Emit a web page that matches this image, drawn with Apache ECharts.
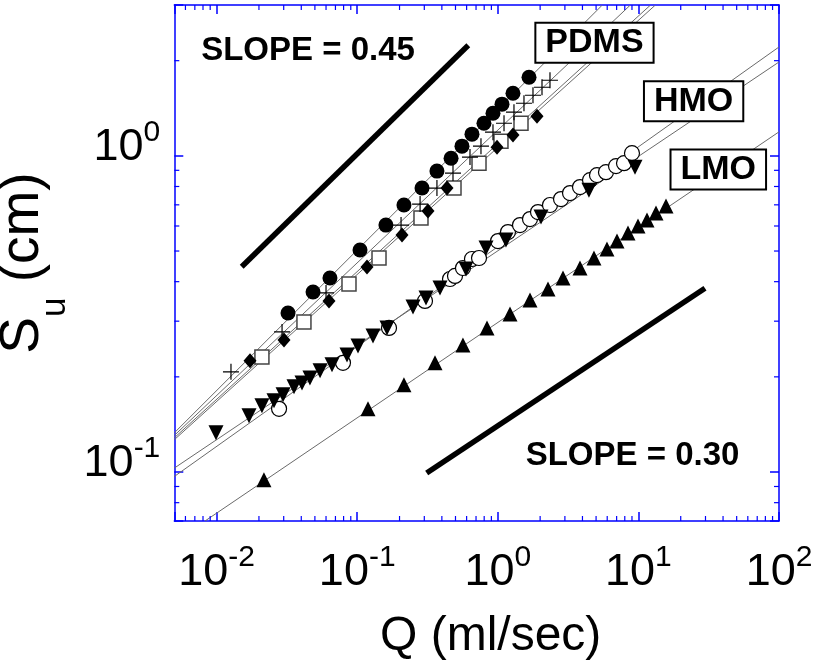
<!DOCTYPE html>
<html>
<head>
<meta charset="utf-8">
<script src="https://cdn.jsdelivr.net/npm/echarts@6/dist/echarts.min.js"></script>
<style>
html,body{margin:0;padding:0;background:#fff;}
#chart{width:815px;height:668px;}
</style>
</head>
<body>
<div id="chart"></div>
<script>
// ---------- data ----------
// PDMS group
const circleQ = [0.0322,0.0485,0.064,0.1047,0.160,0.215,0.289,0.369,0.465,0.556,0.655,0.797,0.924,1.071,1.282,1.667];
const circleS = [0.3185,0.371,0.411,0.504,0.604,0.699,0.791,0.895,0.983,1.073,1.171,1.268,1.364,1.457,1.578,1.773];
const plusQ = [0.01265,0.0292,0.060,0.205,0.280,0.369,0.480,0.634,0.759,0.924,1.107,1.303,1.535,1.779,2.062,2.35];
const plusS = [0.2074,0.2774,0.3684,0.604,0.704,0.791,0.882,0.991,1.073,1.188,1.268,1.374,1.467,1.555,1.648,1.734];
const squareQ = [0.0210,0.0418,0.0874,0.1429,0.2842,0.488,0.735,1.053,1.462];
const squareS = [0.2313,0.2984,0.3934,0.4752,0.6357,0.791,0.948,1.113,1.268];
const diamondQ = [0.01728,0.03014,0.063,0.1174,0.2083,0.3187,0.435,0.987,1.282,1.900];
const diamondS = [0.2247,0.2617,0.3476,0.4451,0.5617,0.669,0.791,1.065,1.163,1.335];
// HMO group
const openQ = [0.0278,0.0792,0.1683,0.3034,0.457,0.496,0.565,0.655,0.735,1.003,1.181,1.438,1.694,1.931,2.35,2.815,3.262,3.842,4.525,5.075,5.88,6.93,7.90,9.00];
const openS = [0.1585,0.2215,0.2856,0.3476,0.4078,0.417,0.4418,0.4718,0.4752,0.5377,0.5741,0.604,0.631,0.664,0.699,0.730,0.7626,0.7965,0.838,0.869,0.888,0.928,0.948,1.020];
const downQ = [0.0099,0.0170,0.0210,0.0256,0.0297,0.0355,0.0405,0.0461,0.0544,0.0662,0.0846,0.1013,0.1295,0.1628,0.2493,0.3084,0.388,0.594,0.824,1.143,2.028,4.45,9.46];
const downS = [0.1331,0.1506,0.162,0.168,0.1754,0.186,0.1914,0.1985,0.2089,0.2183,0.2347,0.2505,0.2695,0.2856,0.3327,0.3553,0.3822,0.4387,0.511,0.5417,0.6404,0.779,0.921];
// LMO
const upQ = [0.0217,0.1193,0.215,0.3574,0.565,0.838,1.221,1.694,2.275,2.909,3.842,4.83,5.976,7.04,8.43,9.93,11.51,13.34,15.71];
const upS = [0.0946,0.1585,0.1887,0.2215,0.2524,0.2856,0.3162,0.35,0.3793,0.411,0.4418,0.4752,0.5074,0.5377,0.570,0.5997,0.6264,0.659,0.6937];

// fitted power-law lines (end points)
const fitCircleQ = [0.005, 5.5],   fitCircleS = [0.133, 2.99];
const fitPlusQ = [0.005, 8.7],     fitPlusS = [0.1305, 2.99];
const fitSquareQ = [0.005, 12.1],  fitSquareS = [0.1283, 2.99];
const fitDiamondQ = [0.005, 13.1], fitDiamondS = [0.1265, 2.99];
const fitOpenQ = [0.005, 100],     fitOpenS = [0.0968, 2.210];
const fitDownQ = [0.005, 100],     fitDownS = [0.1029, 1.981];
const fitUpQ = [0.00827, 100],     fitUpS = [0.07, 1.191];

// slope guide lines
const slope045Q = [0.01508, 0.6166], slope045S = [0.4461, 2.237];
const slope030Q = [0.312, 29.75],    slope030S = [0.0993, 0.3813];

// annotations
const boxNames = ['PDMS', 'HMO', 'LMO'];
const boxQ = [4.87, 24.7, 37.0];
const boxS = [2.278, 1.489, 0.9046];
const slopeTexts = ['SLOPE = 0.45', 'SLOPE = 0.30'];
const slopeTextQ = [0.0447, 9.08];
const slopeTextS = [2.149, 0.1126];

// axes
const xMin = 0.005, xMax = 100;
const yMin = 0.07, yMax = 3;
const xMinorTicks = [0.006,0.007,0.008,0.009,0.02,0.03,0.04,0.05,0.06,0.07,0.08,0.09,0.2,0.3,0.4,0.5,0.6,0.7,0.8,0.9,2,3,4,5,6,7,8,9,20,30,40,50,60,70,80,90];
const yMinorTicks = [0.08,0.09,0.2,0.3,0.4,0.5,0.6,0.7,0.8,0.9,2];
const xTitle = 'Q (ml/sec)';

// ---------- chart ----------
const FONT = 'Liberation Sans, Arial, Helvetica, sans-serif';
const BLUE = '#0000ff';
const zip = (a, b) => a.map((v, i) => [v, b[i]]);

function logLabel(v) {
  const e = Math.log10(v);
  const r = Math.round(e);
  if (Math.abs(e - r) > 1e-6) return '';
  return '{b|10}{s|' + r + '}';
}
const labelRich = {
  b: {fontSize: 45, lineHeight: 60, fontFamily: FONT, color: '#000'},
  s: {fontSize: 30, lineHeight: 32, fontFamily: FONT, color: '#000', verticalAlign: 'top'}
};

function baseAxis(extra) {
  return Object.assign({
    type: 'log', logBase: 10,
    axisLine: {show: true, onZero: false, lineStyle: {color: BLUE, width: 1.5}},
    axisTick: {show: true, inside: true, length: 9, lineStyle: {color: BLUE, width: 1.5}},
    splitLine: {show: false},
    minorTick: {show: false},
    minorSplitLine: {show: false}
  }, extra);
}

function fitLine(q, s, color, width) {
  return {
    type: 'line', data: zip(q, s), symbol: 'none', silent: true, clip: true,
    lineStyle: {color: color, width: width, cap: 'butt', opacity: 1}, z: 1
  };
}

function scatter(q, s, symbol, size, itemStyle, extra) {
  return Object.assign({
    type: 'scatter', data: zip(q, s), symbol: symbol, symbolSize: size,
    itemStyle: Object.assign({opacity: 1}, itemStyle), z: 5, silent: true,
    emphasis: {disabled: true}
  }, extra || {});
}

const chart = echarts.init(document.getElementById('chart'), null, {renderer: 'canvas'});
const option = {
  animation: false,
  backgroundColor: '#fff',
  grid: {left: 174.3, right: 36, top: 5, bottom: 147, containLabel: false, outerBoundsMode: 'none'},
  xAxis: [
    baseAxis({
      min: xMin, max: xMax, position: 'bottom',
      axisLabel: {show: true, margin: 22, formatter: logLabel, rich: labelRich, showMinLabel: true, showMaxLabel: true},
      name: xTitle, nameLocation: 'middle', nameGap: 92,
      nameTextStyle: {fontSize: 48, fontFamily: FONT, color: '#000', padding: [0, 0, 0, 28]}
    }),
    baseAxis({min: xMin, max: xMax, position: 'top', axisLabel: {show: false}})
  ],
  yAxis: [
    baseAxis({
      min: yMin, max: yMax, position: 'left',
      axisLabel: {show: true, margin: 14, formatter: logLabel, rich: labelRich, padding: [0, 0, 16, 0]},
      name: '{m|S}{u|u}{m| (cm)}', nameLocation: 'middle', nameGap: 77,
      nameTextStyle: {
        color: '#000',
        rich: {
          m: {fontSize: 55, lineHeight: 100, fontFamily: FONT, color: '#000'},
          u: {fontSize: 35, lineHeight: 35, fontFamily: FONT, color: '#000', verticalAlign: 'bottom'}
        }
      }
    }),
    baseAxis({min: yMin, max: yMax, position: 'right', axisLabel: {show: false}})
  ],
  series: [
    // minor ticks on bottom/top
    {
      type: 'custom', silent: true, clip: false, z: 3,
      data: xMinorTicks.map(v => [v, 1]),
      renderItem: function (params, api) {
        const cs = params.coordSys;
        const p = api.coord([api.value(0), 1]);
        const yb = cs.y + cs.height, yt = cs.y;
        return {type: 'group', children: [
          {type: 'line', shape: {x1: p[0], y1: yb, x2: p[0], y2: yb - 5}, style: {stroke: BLUE, lineWidth: 1.2}},
          {type: 'line', shape: {x1: p[0], y1: yt, x2: p[0], y2: yt + 5}, style: {stroke: BLUE, lineWidth: 1.2}}
        ]};
      }
    },
    // minor ticks on left/right
    {
      type: 'custom', silent: true, clip: false, z: 3,
      data: yMinorTicks.map(v => [1, v]),
      renderItem: function (params, api) {
        const cs = params.coordSys;
        const p = api.coord([1, api.value(1)]);
        const xl = cs.x, xr = cs.x + cs.width;
        return {type: 'group', children: [
          {type: 'line', shape: {x1: xl, y1: p[1], x2: xl + 5, y2: p[1]}, style: {stroke: BLUE, lineWidth: 1.2}},
          {type: 'line', shape: {x1: xr, y1: p[1], x2: xr - 5, y2: p[1]}, style: {stroke: BLUE, lineWidth: 1.2}}
        ]};
      }
    },
    fitLine(fitCircleQ, fitCircleS, '#6a6a6a', 1),
    fitLine(fitPlusQ, fitPlusS, '#6a6a6a', 1),
    fitLine(fitSquareQ, fitSquareS, '#6a6a6a', 1),
    fitLine(fitDiamondQ, fitDiamondS, '#6a6a6a', 1),
    fitLine(fitOpenQ, fitOpenS, '#6a6a6a', 1),
    fitLine(fitDownQ, fitDownS, '#6a6a6a', 1),
    fitLine(fitUpQ, fitUpS, '#6a6a6a', 1),
    fitLine(slope045Q, slope045S, '#000', 5.5),
    fitLine(slope030Q, slope030S, '#000', 5.5),
    scatter(squareQ, squareS, 'rect', 14, {color: '#fff', borderColor: '#444', borderWidth: 1.5}),
    scatter(diamondQ, diamondS, 'diamond', [13, 15], {color: '#000'}),
    scatter(plusQ, plusS, 'path://M0,5L10,5M5,0L5,10', 16, {color: 'rgba(0,0,0,0)', borderColor: '#000', borderWidth: 1.2}),
    scatter(circleQ, circleS, 'circle', 15, {color: '#000'}),
    scatter(openQ, openS, 'circle', 15, {color: '#fff', borderColor: '#000', borderWidth: 1.2}),
    scatter(downQ, downS, 'triangle', 15, {color: '#000'}, {symbolRotate: 180}),
    scatter(upQ, upS, 'triangle', 15, {color: '#000'}),
    // boxed labels
    {
      type: 'scatter', silent: true, z: 20, symbolSize: 1, emphasis: {disabled: true},
      itemStyle: {color: 'rgba(0,0,0,0)', opacity: 1},
      data: boxNames.map((n, i) => ({name: n, value: [boxQ[i], boxS[i]]})),
      label: {
        show: true, position: 'inside', formatter: '{b}', opacity: 1,
        fontSize: 34, fontWeight: 'bold', fontFamily: FONT, color: '#000', lineHeight: 35,
        backgroundColor: '#fff', borderColor: '#000', borderWidth: 2, padding: [2, 9, 1, 9]
      }
    },
    // slope texts
    {
      type: 'scatter', silent: true, z: 20, symbolSize: 1, emphasis: {disabled: true},
      itemStyle: {color: 'rgba(0,0,0,0)', opacity: 1},
      data: slopeTexts.map((n, i) => ({name: n, value: [slopeTextQ[i], slopeTextS[i]]})),
      label: {
        show: true, position: 'inside', formatter: '{b}', opacity: 1,
        fontSize: 33, fontWeight: 'bold', fontFamily: FONT, color: '#000'
      }
    }
  ]
};
chart.setOption(option);
</script>
</body>
</html>
